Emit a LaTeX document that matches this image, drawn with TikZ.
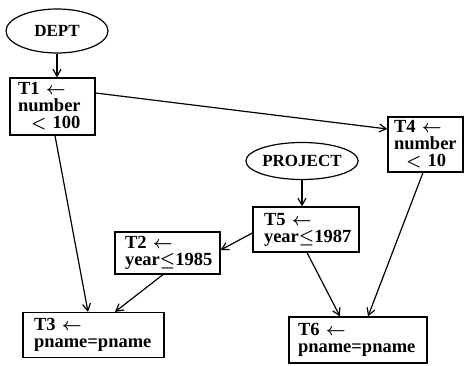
\documentclass[tikz,border=0pt]{standalone}
\usepackage{fontspec}
\setmainfont{Liberation Serif}
\usetikzlibrary{shapes.geometric,arrows.meta}
\newcommand\bxfont{\fontsize{18.5}{17}\selectfont\bfseries\boldmath}
\newcommand\elfont{\fontsize{17}{17}\selectfont\bfseries}
\begin{document}
\begin{tikzpicture}[x=1pt,y=-1pt,line width=1.2pt,
  rel/.style={draw,ellipse,inner sep=0pt,font=\elfont},
  opbox/.style={draw,rectangle,inner ysep=0pt,align=left,font=\bxfont},
  arr/.style={-{Straight Barb[length=7pt,width=8pt,line width=1.2pt]}}]
\useasboundingbox (0,0) rectangle (465,366);
% relations
\node[rel,minimum width=102pt,minimum height=44pt] (DEPT) at (57,31) {DEPT};
\node[rel,minimum width=101pt,minimum height=37pt] (PROJ) at (302,161) {PROJECT};
% operation boxes
\node[opbox,minimum width=85pt,minimum height=57pt,inner xsep=8pt,text width=69pt] (T1) at (52.5,106.5)
  {T1 $\leftarrow$\\number\\\hspace*{13pt}$<$ 100};
\node[opbox,minimum width=75pt,minimum height=55pt,inner xsep=6pt,text width=63pt] (T4) at (425.5,144.5)
  {T4 $\leftarrow$\\number\\\hspace*{12pt}$<$ 10};
\node[opbox,minimum width=106pt,minimum height=45pt,inner xsep=11pt,text width=84pt] (T5) at (306,229.5)
  {T5 $\leftarrow$\\year$\le$1987};
\node[opbox,minimum width=105pt,minimum height=42pt,inner xsep=10pt,text width=85pt] (T2) at (167.5,253)
  {T2 $\leftarrow$\\year$\le$1985};
\node[opbox,minimum width=141pt,minimum height=45pt,inner xsep=11pt,text width=119pt] (T3) at (93.5,335)
  {T3 $\leftarrow$\\pname=pname};
\node[opbox,minimum width=138pt,minimum height=46pt,inner xsep=9pt,text width=120pt] (T6) at (358,340)
  {T6 $\leftarrow$\\pname=pname};
% connectors
\draw[arr] (DEPT.south) -- (DEPT.south |- T1.north);
\draw[arr] (PROJ.south) -- (PROJ.south |- T5.north);
\draw[arr] ([yshift=13.5pt]T1.east) -- ([yshift=15.5pt]T4.west);
\draw[arr] ([xshift=2.5pt]T1.south) -- ([xshift=-5.5pt]T3.north);
\draw[arr] ([yshift=-3.5pt]T5.west) -- ([yshift=3pt]T2.east);
\draw[arr] ([xshift=-4.5pt]T2.south) -- ([xshift=21.5pt]T3.north);
\draw[arr] ([xshift=1pt]T5.south) -- ([xshift=-18pt]T6.north);
\draw[arr] ([xshift=-2.5pt]T4.south) -- ([xshift=10pt]T6.north);
\end{tikzpicture}
\end{document}
